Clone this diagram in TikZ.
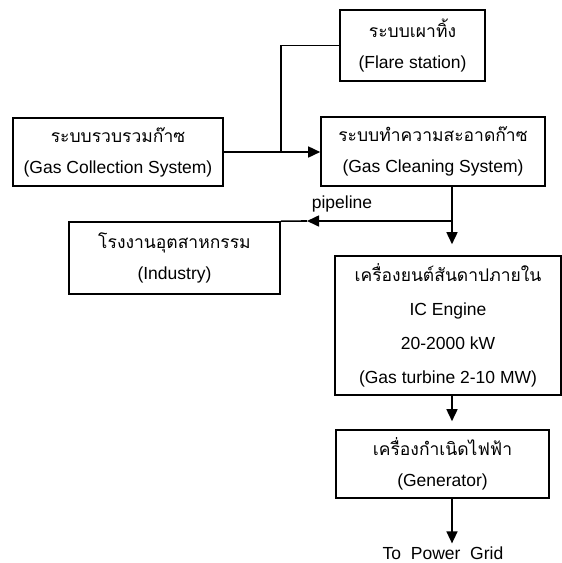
\documentclass[tikz,border=0pt]{standalone}
\usepackage{fontspec}
\setmainfont{Liberation Sans}
\newfontfamily\thaifont[Script=Thai]{Loma}
\usetikzlibrary{arrows.meta}
\usetikzlibrary{positioning}
\tikzset {
    box/.style = {draw=black, line width=1.6pt, shape=rectangle, align=center, inner sep=0pt, font=\fontsize{17.5}{31}\selectfont},
    wire/.style = {line width=1.6pt},
    arr/.style = {wire, -{Triangle[length=12pt,width=11pt]}}
}

\begin{document}
\begin{tikzpicture}[x=1pt, y=-1pt]
	\useasboundingbox (0,0) rectangle (562,563);
	\node (flare) [box, minimum width=145pt, minimum height=71pt] at (412.5,45.5) {{\thaifont ระบบเผาทิ้ง}\\(Flare station)};
	\node (coll) [box, minimum width=210pt, minimum height=68pt] at (118,152) {{\thaifont ระบบรวบรวมก๊าซ}\\(Gas Collection System)};
	\node (clean) [box, minimum width=224pt, minimum height=69pt] at (433,151.5) {{\thaifont ระบบทำความสะอาดก๊าซ}\\(Gas Cleaning System)};
	\node (ind) [box, minimum width=211pt, minimum height=72pt] at (174.5,258) {{\thaifont โรงงานอุตสาหกรรม}\\(Industry)};
	\node (ic) [box, minimum width=226pt, minimum height=139pt, font=\fontsize{17.5}{34}\selectfont] at (448,325.5) {{\thaifont เครื่องยนต์สันดาปภายใน}\\IC Engine\\20-2000 kW\\(Gas turbine 2-10 MW)};
	\node (gen) [box, minimum width=213pt, minimum height=68pt] at (442.5,464) {{\thaifont เครื่องกำเนิดไฟฟ้า}\\(Generator)};
	\node (grid) [font=\fontsize{17.5}{20}\selectfont, inner sep=0pt] at (443,553) {To\ \ Power\ \ Grid};
	\node (pipe) [font=\fontsize{17.5}{20}\selectfont, inner sep=0pt] at (342,204) {pipeline};
	% flare branch
	\coordinate (joint) at (281,152);
	\draw[arr] (coll.east) -- (coll.east -| clean.west);
	\draw[wire] (joint) |- (flare.west);
	% pipeline and engine
	\coordinate (tap) at (452,221);
	\coordinate (pipetip) at (307,221);
	\draw[wire] (tap |- clean.south) -- (tap);
	\draw[arr] (tap) -- (pipetip);
	\draw[wire] (pipetip) -- (ind.north east);
	\draw[arr, shorten >=11pt] (tap) -- (tap |- ic.north);
	\draw[arr, shorten >=8pt] (tap |- ic.south) -- (tap |- gen.north);
	\draw[arr, shorten >=3pt] (tap |- gen.south) -- (tap |- grid.north);
\end{tikzpicture}
\end{document}
